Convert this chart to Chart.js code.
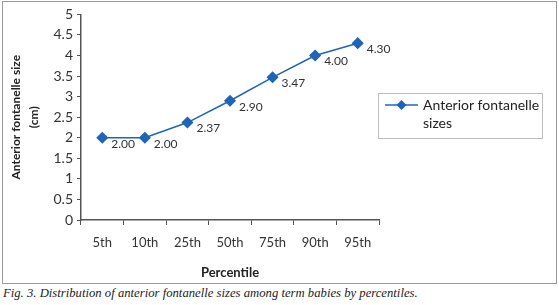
<!DOCTYPE html>
<html lang="en">
  <head>
    <meta charset="UTF-8" />
    <title>Anterior fontanelle sizes by percentile</title>
    <script src="https://cdn.jsdelivr.net/npm/chart.js@4.4.1/dist/chart.umd.min.js"></script>
    <style>
      body { margin: 0; background: #fff; }
      #box {
        position: absolute; left: 2px; top: 1px;
        width: 553px; height: 281px;
        border: 1px solid #9a9a9a;
      }
      #caption {
        position: absolute; left: 3px; top: 286px;
        font-family: "Liberation Serif", "DejaVu Serif", "Times New Roman", serif;
        font-style: italic;
        font-size: 12.7px;
        color: #222;
        white-space: nowrap;
      }
    </style>
  </head>
  <body>
    <div id="box"><canvas id="chart" width="553" height="281"></canvas></div>
    <div id="caption">Fig. 3. Distribution of anterior fontanelle sizes among term babies by percentiles.</div>

    <script>
      // data
      const percentiles = ["5th", "10th", "25th", "50th", "75th", "90th", "95th"];
      const sizes = [2.0, 2.0, 2.37, 2.9, 3.47, 4.0, 4.3];
      const seriesName = ["Anterior fontanelle", "sizes"];

      const blue = "#1f64b8";
      const ink = "#333";
      const fontFamily = "Lato, 'Open Sans', sans-serif";

      // value labels beside each point
      const valueLabels = {
        id: "valueLabels",
        afterDatasetsDraw(chart) {
          const c = chart.ctx;
          const meta = chart.getDatasetMeta(0);
          c.save();
          c.font = "12px " + fontFamily;
          c.fillStyle = ink;
          c.textAlign = "left";
          c.textBaseline = "middle";
          meta.data.forEach((pt, i) => {
            c.fillText(sizes[i].toFixed(2), pt.x + 9, pt.y + 6);
          });
          c.restore();
        },
      };

      // boxed legend on the right, text on two lines
      const boxLegend = {
        id: "boxLegend",
        afterDraw(chart) {
          const c = chart.ctx;
          c.save();
          c.strokeStyle = "#bdbdbd";
          c.lineWidth = 1;
          c.strokeRect(375.5, 91.5, 164, 45);
          c.strokeStyle = blue;
          c.lineWidth = 1.5;
          c.beginPath();
          c.moveTo(382, 103);
          c.lineTo(415, 103);
          c.stroke();
          c.fillStyle = blue;
          c.beginPath();
          c.moveTo(398.5, 98);
          c.lineTo(403.5, 103);
          c.lineTo(398.5, 108);
          c.lineTo(393.5, 103);
          c.closePath();
          c.fill();
          c.font = "14px " + fontFamily;
          c.fillStyle = "#222";
          c.textBaseline = "middle";
          c.fillText(seriesName[0], 420, 103);
          c.fillText(seriesName[1], 420, 121);
          c.restore();
        },
      };

      new Chart(document.getElementById("chart"), {
        type: "line",
        data: {
          labels: percentiles,
          datasets: [
            {
              label: seriesName.join(" "),
              data: sizes,
              borderColor: blue,
              backgroundColor: blue,
              borderWidth: 1.5,
              pointStyle: "rectRot",
              pointRadius: 5,
              pointHoverRadius: 5,
              tension: 0,
            },
          ],
        },
        options: {
          responsive: false,
          animation: false,
          layout: { padding: { top: 10, right: 177, left: 0, bottom: 0 } },
          plugins: { legend: { display: false }, tooltip: { enabled: false } },
          scales: {
            x: {
              offset: true,
              afterFit: (s) => { s.height = 63; },
              grid: { offset: true, drawOnChartArea: false, tickLength: 5, color: "#555" },
              border: { color: "#555", width: 1.5 },
              ticks: { color: ink, padding: 10, font: { family: fontFamily, size: 13 } },
              title: {
                display: true,
                text: "Percentile",
                color: "#222",
                padding: { top: 0, bottom: 2 },
                font: { family: fontFamily, size: 13, weight: "bold", lineHeight: 1.2 },
              },
            },
            y: {
              min: 0,
              max: 5,
              afterFit: (s) => { s.width = 78; },
              grid: { drawOnChartArea: false, tickLength: 4, color: "#555" },
              border: { color: "#555", width: 1.5 },
              ticks: {
                stepSize: 0.5,
                padding: 4,
                color: ink,
                font: { family: fontFamily, size: 14 },
                callback: (v) => String(v),
              },
              title: {
                display: true,
                text: ["Anterior fontanelle size", "(cm)"],
                color: "#222",
                padding: { top: 4, bottom: 0 },
                font: { family: fontFamily, size: 12, weight: "bold", lineHeight: 1.5 },
              },
            },
          },
        },
        plugins: [valueLabels, boxLegend],
      });
    </script>
  </body>
</html>
